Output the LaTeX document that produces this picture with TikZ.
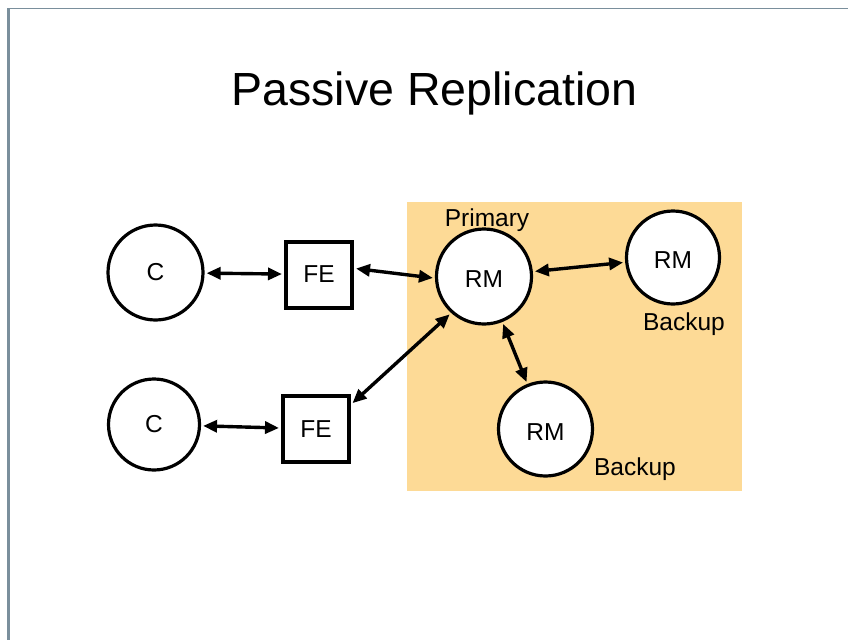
\documentclass[tikz,border=0pt]{standalone}
\usepackage{fontspec}
\setmainfont{Liberation Sans}
\usetikzlibrary{arrows.meta}
\definecolor{zone}{RGB}{253,218,150}
\definecolor{frameline}{RGB}{122,143,156}
\begin{document}
\begin{tikzpicture}[x=1pt,y=-1pt,
  lbl/.style={font=\fontsize{24.5}{27}\selectfont},
  site/.style={circle, draw, line width=3.2pt, fill=white, inner sep=0pt,
    minimum size=94pt, lbl},
  rm/.style={site, text height=22pt, text depth=0pt},
  fe/.style={rectangle, draw, line width=4pt, fill=white, inner sep=0pt,
    minimum size=66pt, lbl},
  link/.style={line width=3.4pt,
    {Triangle[length=14pt,width=12pt]}-{Triangle[length=14pt,width=12pt]},
    shorten <=2pt, shorten >=2pt}]
\useasboundingbox (0,0) rectangle (848,640);
\fill[white] (0,0) rectangle (848,640);
% slide frame edges
\fill[frameline] (7,8) rectangle (10,640);
\fill[frameline] (7,8) rectangle (848,9);

% replica manager zone
\fill[zone] (407,202) rectangle (742,491);

% title
\node[anchor=base, font=\fontsize{46.5}{52}\selectfont] (title) at (434.5,105) {Passive Replication};

% clients and front ends
\node[site, minimum size=95pt] (C1) at (155.5,272.5) {C};
\node[site, minimum size=91pt] (C2) at (154,424.5) {C};
\node[fe] (FE1) at (319,274.5) {FE};
\node[fe] (FE2) at (316,429) {FE};

% replica managers
\node[rm, minimum size=95pt] (P) at (484,276.5) {RM};
\node[rm, minimum size=93pt] (B1) at (673,257.5) {RM};
\node[rm, minimum size=94pt] (B2) at (545.5,429) {RM};

% role labels
\node[lbl, anchor=base] (lp) at (487,226) {Primary};
\node[lbl, anchor=base] (lb1) at (684,330) {Backup};
\node[lbl, anchor=base] (lb2) at (635,475) {Backup};

% connectors
\draw[link] (C1) -- (FE1);
\draw[link] (C2) -- (FE2);
\draw[link] (FE1.10) -- (P.182);
\draw[link] (FE2.35) -- (P.228);
\draw[link] (P) -- (B1);
\draw[link] (P) -- (B2);
\end{tikzpicture}
\end{document}
